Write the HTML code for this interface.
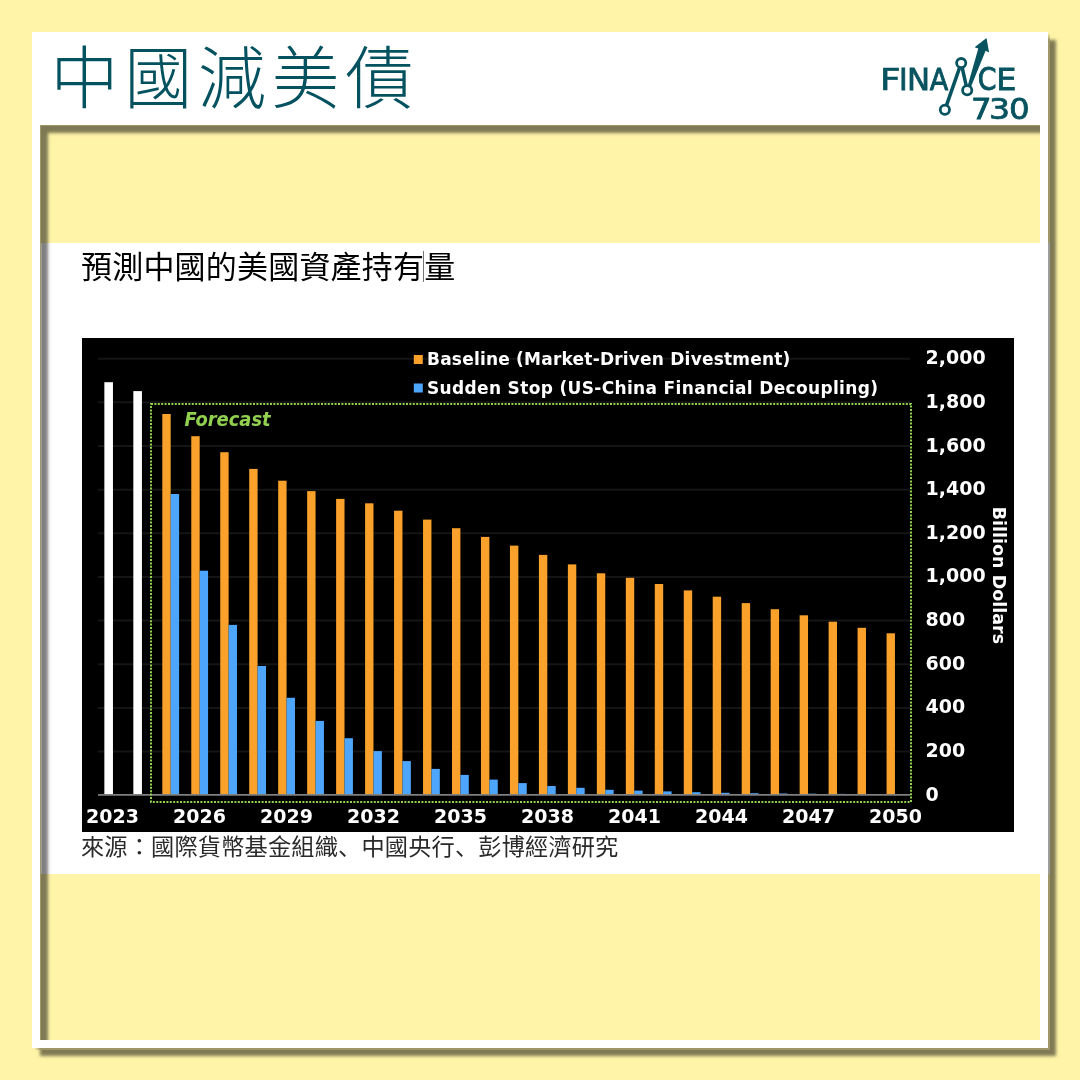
<!DOCTYPE html>
<html><head><meta charset="utf-8"><title>中國減美債</title>
<style>
html,body{margin:0;padding:0}
body{width:1080px;height:1080px;position:relative;overflow:hidden;background:#FFF4A8;}
.panel{position:absolute;left:32px;top:32px;width:1016px;height:1016px;background:#fff;box-shadow:8px 8px 3.2px rgba(0,0,0,.5);}
.title{position:absolute;left:50.5px;top:45px;font-family:"Liberation Sans","Noto Sans CJK TC",sans-serif;font-weight:300;font-size:68px;line-height:68px;letter-spacing:5.7px;color:#04525F;white-space:nowrap}
.logo{position:absolute;left:875px;top:30px}
.inner{position:absolute;left:40px;top:125px;width:1000px;height:915px;background:#FFF4A8}
.img{position:absolute;left:41px;top:243px;width:1009px;height:631px;background:#fff}
.sub{position:absolute;left:81px;top:250px;letter-spacing:0.2px;font-weight:400;font-family:"Liberation Sans","Noto Sans CJK TC",sans-serif;font-size:31px;line-height:36px;color:#000;white-space:nowrap}
.src{position:absolute;left:81px;top:832px;letter-spacing:0.18px;font-family:"Liberation Sans","Noto Sans CJK TC",sans-serif;font-size:23.2px;line-height:30px;color:#2a2a2a;white-space:nowrap}
.chart{position:absolute;left:82px;top:338px}
.jp{font-family:"Liberation Sans","Noto Sans CJK JP",sans-serif}
.ishadow{position:absolute;left:40px;top:125px;width:1000px;height:915px;box-shadow:inset 8px 8px 3.3px rgba(0,0,0,.5);pointer-events:none}
.rs{position:absolute;left:1048px;width:2px;background:#9D976A}
.bs{position:absolute;top:1048px;height:2px;left:34px;width:1016px;background:#9D976A}
</style></head><body>
<div class="panel"></div>
<div class="title">中國減美債</div>
<svg class="logo" width="160" height="95" viewBox="875 30 160 95">
<g fill="#07535F" stroke="#07535F" font-family="DejaVu Sans, sans-serif" font-size="100">
<text transform="matrix(0.3557 0 0 0.3100 879.91 90.00)" stroke-width="2.40">F</text>
<text transform="matrix(0.2940 0 0 0.3100 899.11 90.00)" stroke-width="2.65">I</text>
<text transform="matrix(0.3081 0 0 0.3100 906.88 90.00)" stroke-width="2.59">N</text>
<text transform="matrix(0.2710 0 0 0.3100 929.69 90.00)" stroke-width="2.75">A</text>
<text transform="matrix(0.2688 0 0 0.3120 977.79 90.16)" stroke-width="2.75">C</text>
<text transform="matrix(0.3193 0 0 0.3086 996.27 90.10)" stroke-width="2.55">E</text>
<text transform="matrix(0.3243 0 0 0.2922 970.94 118.70)" stroke-width="2.60">7</text>
<text transform="matrix(0.3313 0 0 0.2909 989.08 118.59)" stroke-width="2.57">3</text>
<text transform="matrix(0.3255 0 0 0.2909 1009.05 118.59)" stroke-width="2.60">0</text>
</g>
<g stroke="#07535F" fill="none" stroke-width="3.5" stroke-linecap="round">
<line x1="944.9" y1="109.8" x2="961.2" y2="63.1"/>
<line x1="961.2" y1="63.1" x2="967.2" y2="90.2"/>
</g>
<polygon points="974.6,47.3 986.5,38 989.1,52.6 985.6,50.8 971.3,86 967.6,86 978.3,48.4" fill="#07535F"/>
<g stroke="#07535F" fill="#fff" stroke-width="2.8">
<circle cx="944.9" cy="109.8" r="4.6"/>
<circle cx="961.2" cy="63.1" r="4.6"/>
<circle cx="967.2" cy="90.2" r="4.6"/>
</g>
</svg>
<div class="inner"></div>
<div class="img"></div>
<div class="sub">預測中國的美國資產持有量</div>
<svg class="chart" width="932" height="494" viewBox="82 338 932 494">
<rect x="82" y="338" width="932" height="494" fill="#000"/>
<line x1="98" x2="910" y1="358.70" y2="358.70" stroke="#151515" stroke-width="2"/>
<line x1="98" x2="910" y1="402.35" y2="402.35" stroke="#151515" stroke-width="2"/>
<line x1="98" x2="910" y1="446.00" y2="446.00" stroke="#151515" stroke-width="2"/>
<line x1="98" x2="910" y1="489.65" y2="489.65" stroke="#151515" stroke-width="2"/>
<line x1="98" x2="910" y1="533.30" y2="533.30" stroke="#151515" stroke-width="2"/>
<line x1="98" x2="910" y1="576.95" y2="576.95" stroke="#151515" stroke-width="2"/>
<line x1="98" x2="910" y1="620.60" y2="620.60" stroke="#151515" stroke-width="2"/>
<line x1="98" x2="910" y1="664.25" y2="664.25" stroke="#151515" stroke-width="2"/>
<line x1="98" x2="910" y1="707.90" y2="707.90" stroke="#151515" stroke-width="2"/>
<line x1="98" x2="910" y1="751.55" y2="751.55" stroke="#151515" stroke-width="2"/>
<rect x="104.36" y="382.2" width="8.6" height="412.60" fill="#fff"/>
<rect x="133.33" y="391.1" width="8.6" height="403.70" fill="#fff"/>
<rect x="162.30" y="414" width="8.4" height="380.80" fill="#F9A12A"/>
<rect x="170.70" y="494" width="8.4" height="300.80" fill="#4DA6FC"/>
<rect x="191.27" y="436.2" width="8.4" height="358.60" fill="#F9A12A"/>
<rect x="199.67" y="570.7" width="8.4" height="224.10" fill="#4DA6FC"/>
<rect x="220.24" y="452.2" width="8.4" height="342.60" fill="#F9A12A"/>
<rect x="228.64" y="624.9" width="8.4" height="169.90" fill="#4DA6FC"/>
<rect x="249.21" y="468.9" width="8.4" height="325.90" fill="#F9A12A"/>
<rect x="257.61" y="666" width="8.4" height="128.80" fill="#4DA6FC"/>
<rect x="278.18" y="480.7" width="8.4" height="314.10" fill="#F9A12A"/>
<rect x="286.58" y="697.8" width="8.4" height="97.00" fill="#4DA6FC"/>
<rect x="307.15" y="491.1" width="8.4" height="303.70" fill="#F9A12A"/>
<rect x="315.55" y="720.9" width="8.4" height="73.90" fill="#4DA6FC"/>
<rect x="336.12" y="498.9" width="8.4" height="295.90" fill="#F9A12A"/>
<rect x="344.52" y="738.2" width="8.4" height="56.60" fill="#4DA6FC"/>
<rect x="365.09" y="503.3" width="8.4" height="291.50" fill="#F9A12A"/>
<rect x="373.49" y="751.1" width="8.4" height="43.70" fill="#4DA6FC"/>
<rect x="394.06" y="510.7" width="8.4" height="284.10" fill="#F9A12A"/>
<rect x="402.46" y="761.1" width="8.4" height="33.70" fill="#4DA6FC"/>
<rect x="423.03" y="519.6" width="8.4" height="275.20" fill="#F9A12A"/>
<rect x="431.43" y="768.9" width="8.4" height="25.90" fill="#4DA6FC"/>
<rect x="452.00" y="528.2" width="8.4" height="266.60" fill="#F9A12A"/>
<rect x="460.40" y="774.9" width="8.4" height="19.90" fill="#4DA6FC"/>
<rect x="480.97" y="536.9" width="8.4" height="257.90" fill="#F9A12A"/>
<rect x="489.37" y="779.6" width="8.4" height="15.20" fill="#4DA6FC"/>
<rect x="509.94" y="545.6" width="8.4" height="249.20" fill="#F9A12A"/>
<rect x="518.34" y="783.1" width="8.4" height="11.70" fill="#4DA6FC"/>
<rect x="538.91" y="554.9" width="8.4" height="239.90" fill="#F9A12A"/>
<rect x="547.31" y="786" width="8.4" height="8.80" fill="#4DA6FC"/>
<rect x="567.88" y="564.4" width="8.4" height="230.40" fill="#F9A12A"/>
<rect x="576.28" y="787.8" width="8.4" height="7.00" fill="#4DA6FC"/>
<rect x="596.85" y="573.3" width="8.4" height="221.50" fill="#F9A12A"/>
<rect x="605.25" y="789.8" width="8.4" height="5.00" fill="#4DA6FC"/>
<rect x="625.82" y="577.8" width="8.4" height="217.00" fill="#F9A12A"/>
<rect x="634.22" y="790.6" width="8.4" height="4.20" fill="#4DA6FC"/>
<rect x="654.79" y="584" width="8.4" height="210.80" fill="#F9A12A"/>
<rect x="663.19" y="791.4" width="8.4" height="3.40" fill="#4DA6FC"/>
<rect x="683.76" y="590.4" width="8.4" height="204.40" fill="#F9A12A"/>
<rect x="692.16" y="792.2" width="8.4" height="2.60" fill="#4DA6FC"/>
<rect x="712.73" y="596.7" width="8.4" height="198.10" fill="#F9A12A"/>
<rect x="721.13" y="792.8" width="8.4" height="2.00" fill="#4DA6FC"/>
<rect x="741.70" y="603.1" width="8.4" height="191.70" fill="#F9A12A"/>
<rect x="750.10" y="793.2" width="8.4" height="1.60" fill="#4DA6FC"/>
<rect x="770.67" y="609.2" width="8.4" height="185.60" fill="#F9A12A"/>
<rect x="779.07" y="793.5" width="8.4" height="1.30" fill="#4DA6FC"/>
<rect x="799.64" y="615.3" width="8.4" height="179.50" fill="#F9A12A"/>
<rect x="808.04" y="793.7" width="8.4" height="1.10" fill="#4DA6FC"/>
<rect x="828.61" y="621.7" width="8.4" height="173.10" fill="#F9A12A"/>
<rect x="837.01" y="793.9" width="8.4" height="0.90" fill="#4DA6FC"/>
<rect x="857.58" y="627.8" width="8.4" height="167.00" fill="#F9A12A"/>
<rect x="865.98" y="794.0" width="8.4" height="0.80" fill="#4DA6FC"/>
<rect x="886.55" y="633.3" width="8.4" height="161.50" fill="#F9A12A"/>
<rect x="894.95" y="794.1" width="8.4" height="0.70" fill="#4DA6FC"/>
<line x1="98" x2="910" y1="794.8" y2="794.8" stroke="#7f7f7f" stroke-width="1.8"/>
<rect x="151" y="404" width="760" height="398" fill="none" stroke="#92D050" stroke-width="2" stroke-dasharray="2 1.4"/>
<text x="184.6" y="425.5" fill="#92D050" font-family="DejaVu Sans, sans-serif" font-weight="bold" font-style="italic" font-size="19" textLength="86" lengthAdjust="spacingAndGlyphs">Forecast</text>
<rect x="413.8" y="355" width="9" height="9" fill="#F9A12A"/>
<rect x="413.8" y="383.5" width="9" height="9" fill="#4DA6FC"/>
<text x="427" y="365" fill="#fff" font-family="DejaVu Sans, sans-serif" font-weight="bold" font-size="17" textLength="363.4" lengthAdjust="spacing">Baseline (Market-Driven Divestment)</text>
<text x="427" y="393.5" fill="#fff" font-family="DejaVu Sans, sans-serif" font-weight="bold" font-size="17" textLength="451" lengthAdjust="spacing">Sudden Stop (US-China Financial Decoupling)</text>
<text x="925.5" y="364.20" fill="#fff" font-family="DejaVu Sans, sans-serif" font-weight="bold" font-size="19">2,000</text>
<text x="925.5" y="407.85" fill="#fff" font-family="DejaVu Sans, sans-serif" font-weight="bold" font-size="19">1,800</text>
<text x="925.5" y="451.50" fill="#fff" font-family="DejaVu Sans, sans-serif" font-weight="bold" font-size="19">1,600</text>
<text x="925.5" y="495.15" fill="#fff" font-family="DejaVu Sans, sans-serif" font-weight="bold" font-size="19">1,400</text>
<text x="925.5" y="538.80" fill="#fff" font-family="DejaVu Sans, sans-serif" font-weight="bold" font-size="19">1,200</text>
<text x="925.5" y="582.45" fill="#fff" font-family="DejaVu Sans, sans-serif" font-weight="bold" font-size="19">1,000</text>
<text x="925.5" y="626.10" fill="#fff" font-family="DejaVu Sans, sans-serif" font-weight="bold" font-size="19">800</text>
<text x="925.5" y="669.75" fill="#fff" font-family="DejaVu Sans, sans-serif" font-weight="bold" font-size="19">600</text>
<text x="925.5" y="713.40" fill="#fff" font-family="DejaVu Sans, sans-serif" font-weight="bold" font-size="19">400</text>
<text x="925.5" y="757.05" fill="#fff" font-family="DejaVu Sans, sans-serif" font-weight="bold" font-size="19">200</text>
<text x="925.5" y="800.70" fill="#fff" font-family="DejaVu Sans, sans-serif" font-weight="bold" font-size="19">0</text>
<text x="112.50" y="823.2" fill="#fff" text-anchor="middle" font-family="DejaVu Sans, sans-serif" font-weight="bold" font-size="19">2023</text>
<text x="199.50" y="823.2" fill="#fff" text-anchor="middle" font-family="DejaVu Sans, sans-serif" font-weight="bold" font-size="19">2026</text>
<text x="286.50" y="823.2" fill="#fff" text-anchor="middle" font-family="DejaVu Sans, sans-serif" font-weight="bold" font-size="19">2029</text>
<text x="373.50" y="823.2" fill="#fff" text-anchor="middle" font-family="DejaVu Sans, sans-serif" font-weight="bold" font-size="19">2032</text>
<text x="460.50" y="823.2" fill="#fff" text-anchor="middle" font-family="DejaVu Sans, sans-serif" font-weight="bold" font-size="19">2035</text>
<text x="547.50" y="823.2" fill="#fff" text-anchor="middle" font-family="DejaVu Sans, sans-serif" font-weight="bold" font-size="19">2038</text>
<text x="634.50" y="823.2" fill="#fff" text-anchor="middle" font-family="DejaVu Sans, sans-serif" font-weight="bold" font-size="19">2041</text>
<text x="721.50" y="823.2" fill="#fff" text-anchor="middle" font-family="DejaVu Sans, sans-serif" font-weight="bold" font-size="19">2044</text>
<text x="808.50" y="823.2" fill="#fff" text-anchor="middle" font-family="DejaVu Sans, sans-serif" font-weight="bold" font-size="19">2047</text>
<text x="895.50" y="823.2" fill="#fff" text-anchor="middle" font-family="DejaVu Sans, sans-serif" font-weight="bold" font-size="19">2050</text>
<text transform="translate(992.8,575.4) rotate(90)" fill="#fff" text-anchor="middle" font-family="DejaVu Sans, sans-serif" font-weight="bold" font-size="17.5">Billion Dollars</text>
</svg>
<div style="position:absolute;left:423px;top:251px;width:1px;height:31px;background:#777"></div>
<div class="src">來源：國際貨幣基金組織<span class="jp">、</span>中國央行<span class="jp">、</span>彭博經濟研究</div>
<div class="ishadow"></div>
<div class="rs" style="top:33px;height:8px;background:linear-gradient(rgba(157,151,106,0),#9D976A)"></div>
<div class="rs" style="top:41px;height:202px"></div>
<div class="rs" style="top:243px;height:631px;background:#9C9C9C"></div>
<div class="rs" style="top:874px;height:176px"></div>
<div class="bs" style="left:34px;width:8px;background:linear-gradient(90deg,rgba(157,151,106,0),#9D976A)"></div>
<div class="bs" style="left:42px;width:1006px"></div>
<div style="position:absolute;left:40px;top:125px;width:1px;height:915px;background:#9D976A"></div>
<div style="position:absolute;left:40px;top:125px;width:1000px;height:1px;background:#9D976A"></div>
<div style="position:absolute;left:41px;top:243px;width:1px;height:631px;background:#9A9A9A"></div>
</body></html>
